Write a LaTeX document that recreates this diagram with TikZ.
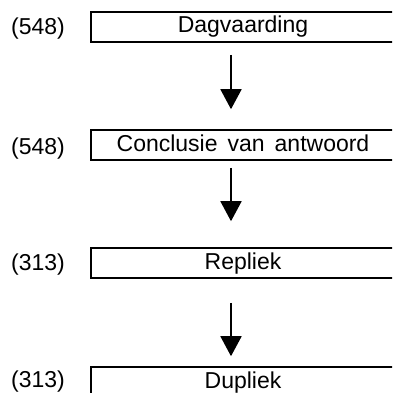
\documentclass[tikz,border=0pt]{standalone}
\usepackage{fontspec}
\setmainfont{Liberation Sans}
\usetikzlibrary{arrows.meta}
\begin{document}
\begin{tikzpicture}[x=1pt,y=-1pt,
  stage/.style={draw=black, line width=1.6pt, minimum width=304pt, minimum height=30pt, inner sep=0pt,
    text height=17pt, text depth=5pt, font=\fontsize{23}{27}\selectfont},
  num/.style={anchor=base west, inner sep=0pt, font=\fontsize{23}{27}\selectfont},
  flow/.style={line width=1.8pt, -{Triangle[width=21pt,length=20pt]}}]
\useasboundingbox (0,0) rectangle (392,393);
\clip (0,0) rectangle (392,393);
\node[stage] (b1) at (243,27) {Dagvaarding};
\node[stage] (b2) at (243,145) {\spaceskip=10pt Conclusie van antwoord};
\node[stage] (b3) at (243,263) {Repliek};
\node[stage] (b4) at (243,382) {Dupliek};
\node[num] (l1) at (11,35) {(548)};
\node[num] (l2) at (11,154) {(548)};
\node[num] (l3) at (11,270) {(313)};
\node[num] (l4) at (11,387) {(313)};
\draw[flow, shorten <=12pt, shorten >=20pt] ([xshift=-12pt]b1.south) -- ([xshift=-12pt]b2.north);
\draw[flow, shorten <=7pt, shorten >=26pt] ([xshift=-12pt]b2.south) -- ([xshift=-12pt]b3.north);
\draw[flow, shorten <=24pt, shorten >=10pt] ([xshift=-12pt]b3.south) -- ([xshift=-12pt]b4.north);
\end{tikzpicture}
\end{document}
